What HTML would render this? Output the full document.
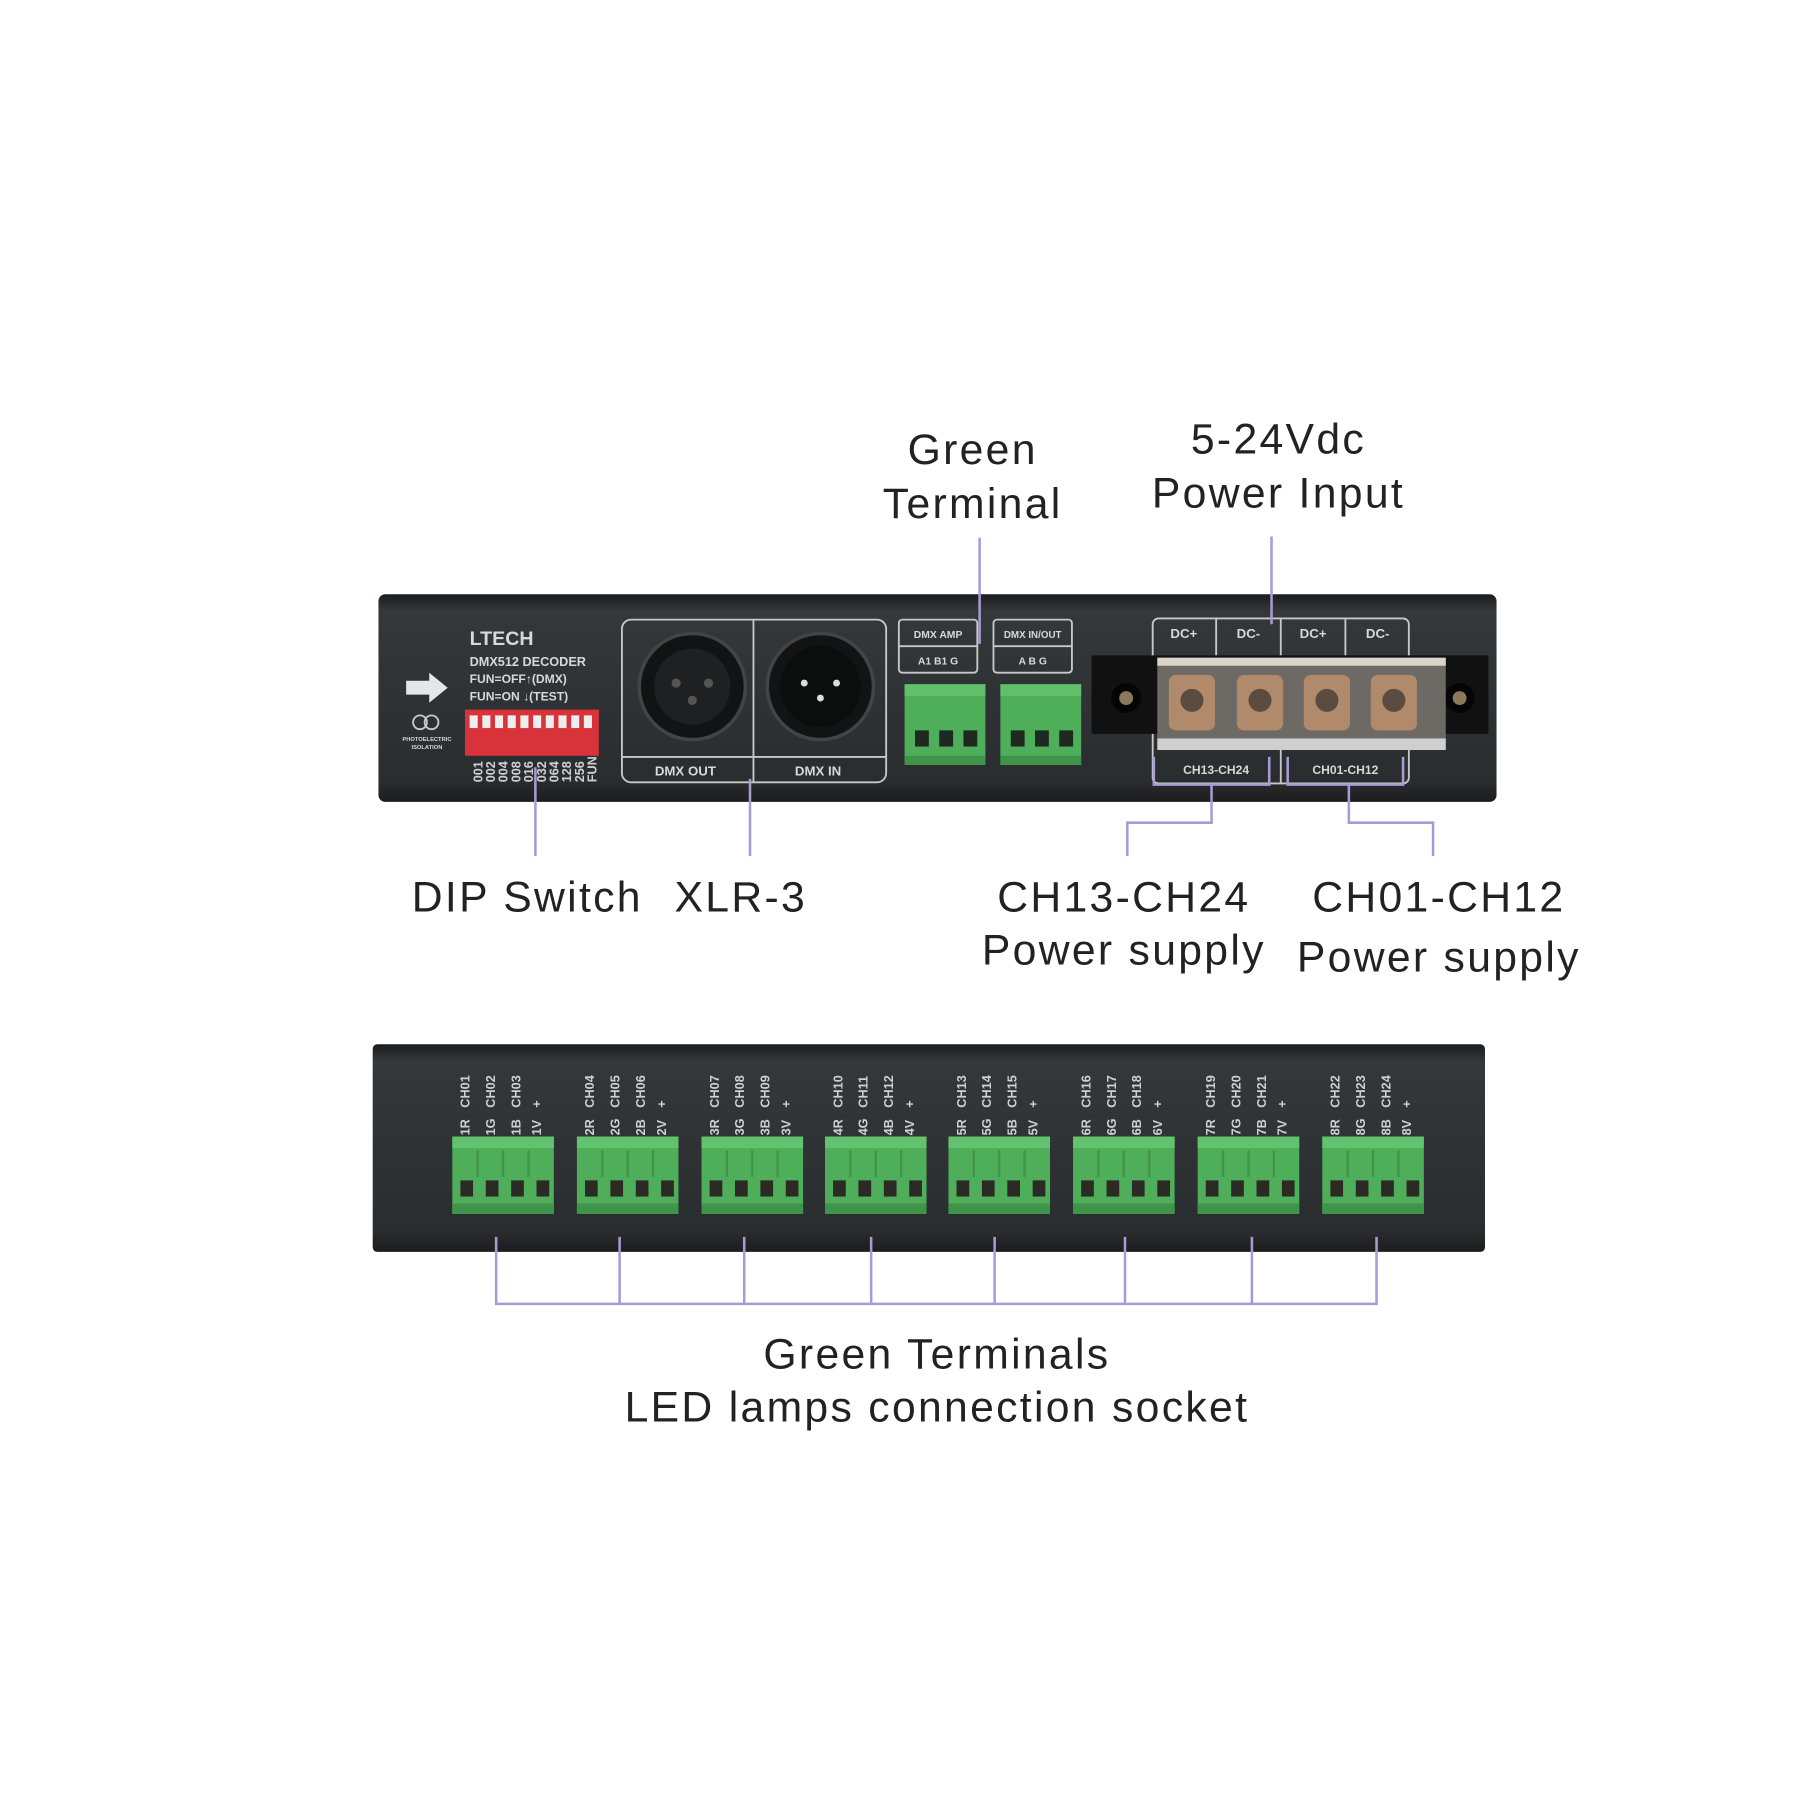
<!DOCTYPE html>
<html><head><meta charset="utf-8"><style>
html,body{margin:0;padding:0;background:#fff;width:1800px;height:1800px;overflow:hidden}
svg{display:block}
.lbl{font-family:"Liberation Sans",sans-serif;font-size:37px;fill:#222;text-anchor:middle;letter-spacing:2px}
.sm{font-family:"Liberation Sans",sans-serif;font-weight:bold;fill:#d8d8d8}
.v{font-family:"Liberation Sans",sans-serif;font-weight:bold;font-size:11px;fill:#d0d0d0}
.ln{stroke:#a99ad4;stroke-width:2.2;fill:none}
.bx{stroke:#c8c8c8;stroke-width:1.6;fill:none}
</style></head><body>
<svg width="1800" height="1800" viewBox="0 0 1560 1560" xmlns="http://www.w3.org/2000/svg">
<defs>
<linearGradient id="pg" x1="0" y1="0" x2="0" y2="1"><stop offset="0" stop-color="#1a1c1e"/><stop offset="0.08" stop-color="#34383a"/><stop offset="0.9" stop-color="#2a2d2f"/><stop offset="1" stop-color="#1b1c1d"/></linearGradient>
<g id="g3"><rect x="0" y="0" width="70" height="70" fill="#4fae5a"/><rect x="0" y="0" width="70" height="10" fill="#62c06c"/><rect x="0" y="62" width="70" height="8" fill="#3f9449"/>
<rect x="9" y="40" width="12" height="14" fill="#1e2a20"/><rect x="30" y="40" width="12" height="14" fill="#1e2a20"/><rect x="51" y="40" width="12" height="14" fill="#1e2a20"/></g>
<g id="g4"><rect x="0" y="0" width="88" height="67" fill="#4fae5a"/><rect x="0" y="0" width="88" height="10" fill="#63c26d"/><rect x="0" y="58" width="88" height="9" fill="#3f9449"/>
<line x1="22" y1="12" x2="22" y2="35" stroke="#3f9449" stroke-width="2"/><line x1="44" y1="12" x2="44" y2="35" stroke="#3f9449" stroke-width="2"/><line x1="66" y1="12" x2="66" y2="35" stroke="#3f9449" stroke-width="2"/>
<rect x="7" y="38" width="11" height="14" fill="#2b2a25"/><rect x="29" y="38" width="11" height="14" fill="#2b2a25"/><rect x="51" y="38" width="11" height="14" fill="#2b2a25"/><rect x="73" y="38" width="11" height="14" fill="#2b2a25"/></g>
</defs>

<text class="lbl" x="843" y="402">Green</text>
<text class="lbl" x="843" y="449">Terminal</text>
<text class="lbl" x="1108" y="393">5-24Vdc</text>
<text class="lbl" x="1108" y="440">Power Input</text>

<rect x="328" y="515" width="969" height="180" rx="6" fill="url(#pg)"/>
<text class="sm" x="407" y="559" font-size="17" font-weight="normal" fill="#e0e0e0">LTECH</text>
<text class="sm" x="407" y="577" font-size="11" font-weight="normal">DMX512 DECODER</text>
<text class="sm" x="407" y="592" font-size="10.5">FUN=OFF↑(DMX)</text>
<text class="sm" x="407" y="607" font-size="10.5">FUN=ON ↓(TEST)</text>
<polygon points="352,590 372,590 372,583 388,596 372,609 372,602 352,602" fill="#e6e6e6"/>
<circle cx="364" cy="626" r="6" class="bx"/><circle cx="374" cy="626" r="6" class="bx"/>
<text class="sm" x="370" y="642" font-size="5" text-anchor="middle">PHOTOELECTRIC</text>
<text class="sm" x="370" y="649" font-size="5" text-anchor="middle">ISOLATION</text>
<rect x="403" y="615" width="116" height="40" fill="#d8323a"/>
<g fill="#eee"><rect x="407" y="620" width="7" height="11"/><rect x="418" y="620" width="7" height="11"/><rect x="429" y="620" width="7" height="11"/><rect x="440" y="620" width="7" height="11"/><rect x="451" y="620" width="7" height="11"/><rect x="462" y="620" width="7" height="11"/><rect x="473" y="620" width="7" height="11"/><rect x="484" y="620" width="7" height="11"/><rect x="495" y="620" width="7" height="11"/><rect x="506" y="620" width="7" height="11"/></g>
<g class="v" font-size="8.5">
<text transform="translate(418,678) rotate(-90)">001</text><text transform="translate(429,678) rotate(-90)">002</text><text transform="translate(440,678) rotate(-90)">004</text><text transform="translate(451,678) rotate(-90)">008</text><text transform="translate(462,678) rotate(-90)">016</text><text transform="translate(473,678) rotate(-90)">032</text><text transform="translate(484,678) rotate(-90)">064</text><text transform="translate(495,678) rotate(-90)">128</text><text transform="translate(506,678) rotate(-90)">256</text><text transform="translate(517,678) rotate(-90)">FUN</text></g>
<rect x="539" y="537" width="229" height="141" rx="8" class="bx"/>
<line x1="653" y1="537" x2="653" y2="678" class="bx"/><line x1="539" y1="656" x2="768" y2="656" class="bx"/>
<circle cx="600" cy="595" r="46" fill="#121314" stroke="#444" stroke-width="3"/><circle cx="600" cy="595" r="33" fill="#1e2021"/>
<circle cx="586" cy="592" r="4" fill="#555"/><circle cx="614" cy="592" r="4" fill="#555"/><circle cx="600" cy="607" r="4" fill="#555"/>
<circle cx="711" cy="595" r="46" fill="#121314" stroke="#444" stroke-width="3"/><circle cx="711" cy="595" r="35" fill="#0c0d0d"/>
<circle cx="697" cy="592" r="3" fill="#ddd"/><circle cx="725" cy="592" r="3" fill="#ddd"/><circle cx="711" cy="605" r="3" fill="#ddd"/>
<text class="sm" x="594" y="672" font-size="11.5" text-anchor="middle">DMX OUT</text>
<text class="sm" x="709" y="672" font-size="11.5" text-anchor="middle">DMX IN</text>
<rect x="779" y="537" width="68" height="46" rx="3" class="bx"/><line x1="779" y1="560" x2="847" y2="560" class="bx"/>
<rect x="861" y="537" width="68" height="46" rx="3" class="bx"/><line x1="861" y1="560" x2="929" y2="560" class="bx"/>
<text class="sm" x="813" y="553" font-size="9" text-anchor="middle">DMX AMP</text>
<text class="sm" x="813" y="576" font-size="9" text-anchor="middle">A1  B1  G</text>
<text class="sm" x="895" y="553" font-size="8.5" text-anchor="middle">DMX IN/OUT</text>
<text class="sm" x="895" y="576" font-size="9" text-anchor="middle">A   B   G</text>
<use href="#g3" x="784" y="593"/><use href="#g3" x="867" y="593"/>
<rect x="999" y="536" width="222" height="143" rx="5" class="bx"/>
<line x1="1054" y1="536" x2="1054" y2="568" class="bx"/><line x1="1110" y1="536" x2="1110" y2="568" class="bx"/><line x1="1166" y1="536" x2="1166" y2="568" class="bx"/>
<text class="sm" x="1026" y="553" font-size="11.5" text-anchor="middle">DC+</text><text class="sm" x="1082" y="553" font-size="11.5" text-anchor="middle">DC-</text>
<text class="sm" x="1138" y="553" font-size="11.5" text-anchor="middle">DC+</text><text class="sm" x="1194" y="553" font-size="11.5" text-anchor="middle">DC-</text>
<rect x="946" y="568" width="344" height="68" fill="#111"/>
<circle cx="976" cy="605" r="13" fill="#050505"/><circle cx="976" cy="605" r="6" fill="#8a7a5a"/>
<circle cx="1265" cy="605" r="13" fill="#050505"/><circle cx="1265" cy="605" r="6" fill="#8a7a5a"/>
<rect x="1003" y="570" width="250" height="80" fill="#6d6a66"/><rect x="1003" y="570" width="250" height="7" fill="#d9d4c8"/><rect x="1003" y="640" width="250" height="10" fill="#cfcfcf"/>
<g fill="#b08a6a"><rect x="1013" y="585" width="40" height="48" rx="6"/><rect x="1072" y="585" width="40" height="48" rx="6"/><rect x="1130" y="585" width="40" height="48" rx="6"/><rect x="1188" y="585" width="40" height="48" rx="6"/></g>
<g fill="#5a4c40"><circle cx="1033" cy="607" r="10"/><circle cx="1092" cy="607" r="10"/><circle cx="1150" cy="607" r="10"/><circle cx="1208" cy="607" r="10"/></g>
<line x1="1110" y1="650" x2="1110" y2="679" class="bx"/>
<text class="sm" x="1054" y="671" font-size="10.5" text-anchor="middle">CH13-CH24</text>
<text class="sm" x="1166" y="671" font-size="10.5" text-anchor="middle">CH01-CH12</text>

<path class="ln" d="M849 466V558"/>
<path class="ln" d="M1102 465V541"/>
<path class="ln" d="M464 665V742"/>
<path class="ln" d="M650 675V742"/>
<path class="ln" d="M1000 656V680H1100V656M1050 680V713H977V742"/>
<path class="ln" d="M1116 656V680H1216V656M1169 680V713H1242V742"/>

<text class="lbl" x="457" y="790">DIP Switch</text>
<text class="lbl" x="642" y="790">XLR-3</text>
<text class="lbl" x="974" y="790">CH13-CH24</text>
<text class="lbl" x="974" y="836">Power supply</text>
<text class="lbl" x="1247" y="790">CH01-CH12</text>
<text class="lbl" x="1247" y="842">Power supply</text>

<rect x="323" y="905" width="964" height="180" rx="4" fill="url(#pg)"/>
<use href="#g4" x="392" y="985"/><use href="#g4" x="500" y="985"/><use href="#g4" x="608" y="985"/><use href="#g4" x="715" y="985"/>
<use href="#g4" x="822" y="985"/><use href="#g4" x="930" y="985"/><use href="#g4" x="1038" y="985"/><use href="#g4" x="1146" y="985"/>
<g class="v">
<text transform="translate(407,960) rotate(-90)">CH01</text><text transform="translate(429,960) rotate(-90)">CH02</text><text transform="translate(451,960) rotate(-90)">CH03</text><text transform="translate(469,960) rotate(-90)">+</text>
<text transform="translate(407,984) rotate(-90)">1R</text><text transform="translate(429,984) rotate(-90)">1G</text><text transform="translate(451,984) rotate(-90)">1B</text><text transform="translate(469,984) rotate(-90)">1V</text>
<text transform="translate(515,960) rotate(-90)">CH04</text><text transform="translate(537,960) rotate(-90)">CH05</text><text transform="translate(559,960) rotate(-90)">CH06</text><text transform="translate(577,960) rotate(-90)">+</text>
<text transform="translate(515,984) rotate(-90)">2R</text><text transform="translate(537,984) rotate(-90)">2G</text><text transform="translate(559,984) rotate(-90)">2B</text><text transform="translate(577,984) rotate(-90)">2V</text>
<text transform="translate(623,960) rotate(-90)">CH07</text><text transform="translate(645,960) rotate(-90)">CH08</text><text transform="translate(667,960) rotate(-90)">CH09</text><text transform="translate(685,960) rotate(-90)">+</text>
<text transform="translate(623,984) rotate(-90)">3R</text><text transform="translate(645,984) rotate(-90)">3G</text><text transform="translate(667,984) rotate(-90)">3B</text><text transform="translate(685,984) rotate(-90)">3V</text>
<text transform="translate(730,960) rotate(-90)">CH10</text><text transform="translate(752,960) rotate(-90)">CH11</text><text transform="translate(774,960) rotate(-90)">CH12</text><text transform="translate(792,960) rotate(-90)">+</text>
<text transform="translate(730,984) rotate(-90)">4R</text><text transform="translate(752,984) rotate(-90)">4G</text><text transform="translate(774,984) rotate(-90)">4B</text><text transform="translate(792,984) rotate(-90)">4V</text>
<text transform="translate(837,960) rotate(-90)">CH13</text><text transform="translate(859,960) rotate(-90)">CH14</text><text transform="translate(881,960) rotate(-90)">CH15</text><text transform="translate(899,960) rotate(-90)">+</text>
<text transform="translate(837,984) rotate(-90)">5R</text><text transform="translate(859,984) rotate(-90)">5G</text><text transform="translate(881,984) rotate(-90)">5B</text><text transform="translate(899,984) rotate(-90)">5V</text>
<text transform="translate(945,960) rotate(-90)">CH16</text><text transform="translate(967,960) rotate(-90)">CH17</text><text transform="translate(989,960) rotate(-90)">CH18</text><text transform="translate(1007,960) rotate(-90)">+</text>
<text transform="translate(945,984) rotate(-90)">6R</text><text transform="translate(967,984) rotate(-90)">6G</text><text transform="translate(989,984) rotate(-90)">6B</text><text transform="translate(1007,984) rotate(-90)">6V</text>
<text transform="translate(1053,960) rotate(-90)">CH19</text><text transform="translate(1075,960) rotate(-90)">CH20</text><text transform="translate(1097,960) rotate(-90)">CH21</text><text transform="translate(1115,960) rotate(-90)">+</text>
<text transform="translate(1053,984) rotate(-90)">7R</text><text transform="translate(1075,984) rotate(-90)">7G</text><text transform="translate(1097,984) rotate(-90)">7B</text><text transform="translate(1115,984) rotate(-90)">7V</text>
<text transform="translate(1161,960) rotate(-90)">CH22</text><text transform="translate(1183,960) rotate(-90)">CH23</text><text transform="translate(1205,960) rotate(-90)">CH24</text><text transform="translate(1223,960) rotate(-90)">+</text>
<text transform="translate(1161,984) rotate(-90)">8R</text><text transform="translate(1183,984) rotate(-90)">8G</text><text transform="translate(1205,984) rotate(-90)">8B</text><text transform="translate(1223,984) rotate(-90)">8V</text>
</g>
<path class="ln" d="M430 1072V1130H1193V1072M537 1072V1130M645 1072V1130M755 1072V1130M862 1072V1130M975 1072V1130M1085 1072V1130"/>
<text class="lbl" x="812" y="1186">Green Terminals</text>
<text class="lbl" x="812" y="1232">LED lamps connection socket</text>
</svg>
</body></html>
